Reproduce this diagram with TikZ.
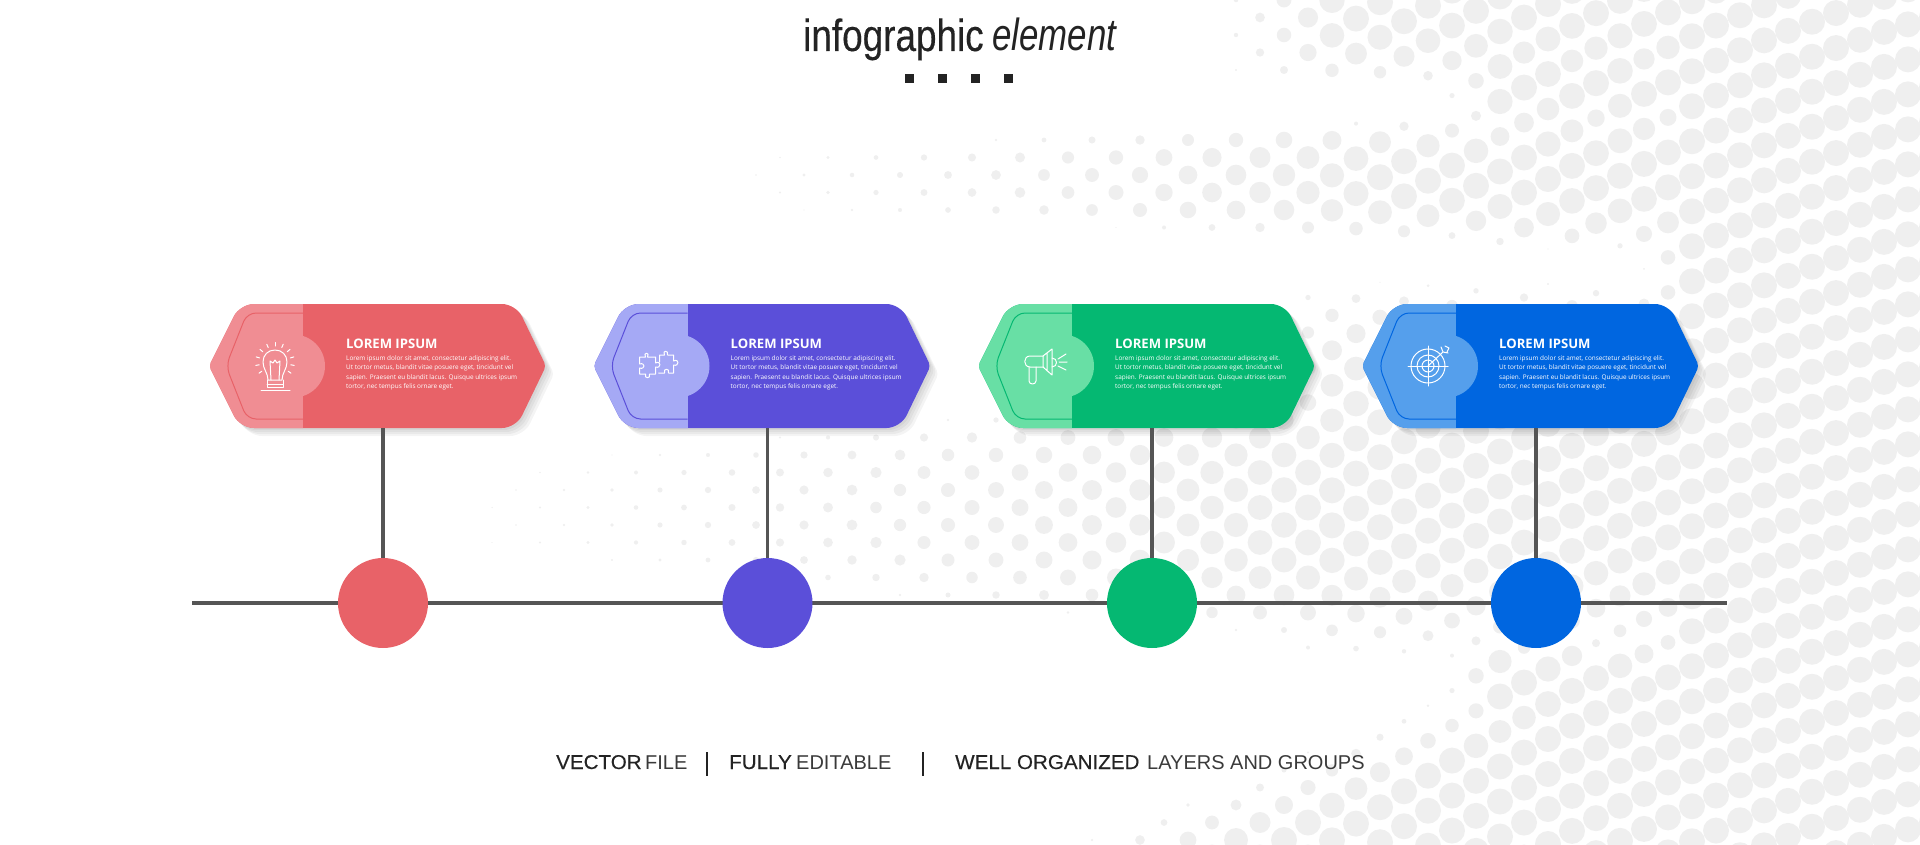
\documentclass[tikz,border=0pt]{standalone}
\usepackage{fontspec}
\usepackage{tikz}
\setmainfont{Open Sans}
\newfontfamily\headfont[FakeStretch=0.82,FakeBold=0.3]{Liberation Sans}
\newfontfamily\heademfont[FakeStretch=0.775]{Liberation Sans Italic}
\newfontfamily\footfont{Liberation Sans}
\newfontfamily\footboldfont[FakeBold=0.35,FakeStretch=1.03]{Liberation Sans}
\definecolor{reddark}{HTML}{E86268}
\definecolor{redlight}{HTML}{F08D93}
\definecolor{violetdark}{HTML}{5B4FD9}
\definecolor{violetlight}{HTML}{A5A9F5}
\definecolor{greendark}{HTML}{05B872}
\definecolor{greenlight}{HTML}{68DFA5}
\definecolor{bluedark}{HTML}{0066E0}
\definecolor{bluelight}{HTML}{559FEC}
\definecolor{inkdark}{HTML}{232323}
\definecolor{inklight}{HTML}{3A3A3A}
\definecolor{stemgray}{HTML}{555555}
\definecolor{halftone}{HTML}{EFEFEF}
\def\cardpath{[rounded corners=4] (-1,0) [rounded corners=14] -- (30,-62) -- (306,-62) [rounded corners=4] -- (336,0) [rounded corners=14] -- (306,62) -- (30,62) [rounded corners=4] -- cycle}
\def\bulbicon{
    \draw (-7,14) .. controls (-7,7) and (-12,3) .. (-12,-4) .. controls (-12,-11) and (-7,-16) .. (0,-16) .. controls (7,-16) and (12,-11) .. (12,-4) .. controls (12,3) and (7,7) .. (7,14) -- cycle;
    \draw (-4,14) -- (-5,-5) -- (-2,-3) -- (0,-6) -- (2,-3) -- (5,-5) -- (4,14);
    \draw (-8,18) -- (8,18) (-8,14) -- (-8,21) -- (8,21) -- (8,14) (-14,24) -- (15,24);
    \foreach \a in {-90,-65,-115,-40,-140,-15,-165,10,170,35,145}
        \draw[shift={(0,-4)}] (\a:16) -- (\a:19.5);
}
\def\puzzleicon{
    \draw (-20,-9) -- (-14,-9) .. controls (-17,-14) and (-9,-14) .. (-12,-9) -- (-4,-9) -- (-4,-3) .. controls (2,-6) and (2,3) .. (-4,1) -- (-4,8) -- (-10,8) .. controls (-8,13) and (-16,13) .. (-14,8) -- (-20,8) -- (-20,2) .. controls (-14,4) and (-14,-4) .. (-20,-2) -- cycle;
    \draw (0,-4) -- (0,-11) -- (5,-11) .. controls (2,-16) and (10,-16) .. (8,-11) -- (14,-11) -- (14,-5) .. controls (20,-8) and (20,1) .. (14,-1) -- (14,7) -- (9,7) .. controls (11,2) and (3,2) .. (5,7) -- (-1,7);
}
\def\hornicon{
    \draw (-1,-10) -- (-14,-10) .. controls (-21,-10) and (-21,1) .. (-14,1) -- (-1,1);
    \draw (-1,-10) -- (8,-17) -- (8,9) -- (-1,1) -- cycle (3,-13) -- (3,5);
    \draw (8,-8) .. controls (14,-8) and (14,1) .. (8,1);
    \draw (-15,1) -- (-15,15) .. controls (-15,19) and (-8,19) .. (-8,15) -- (-8,1);
    \draw (14,-7) -- (22,-12) (15,-4) -- (23,-4) (14,0) -- (22,4);
}
\def\targeticon{
    \draw (0,0) circle (17pt) (0,0) circle (11pt) (0,0) circle (6pt);
    \draw (-20,0) -- (20,0) (0,-20) -- (0,20);
    \draw (0,0) -- (15,-14) (13,-19) -- (15,-14) -- (20,-13) (17,-20) -- (21,-18) -- (19,-14);
}
\tikzset{
    halfdot/.style={fill=halftone},
    timeline/.style={stemgray,line width=4},
    stemline/.style={stemgray,line width=3.5},
    iconline/.style={white,line width=1,line join=round,line cap=round},
    cardtitle/.style={anchor=base west,inner sep=0,white,font=\bfseries\fontsize{13.1}{15}\selectfont},
    cardbody/.style={anchor=north west,inner sep=0,white,align=left,font=\fontsize{6.4}{9.6}\selectfont},
    stepdot/.style={circle,inner sep=0,minimum size=90},
    footword/.style={anchor=base west,inner sep=0,text=inkdark},
    footlight/.style={footword,text=inklight}
}
\begin{document}
\begin{tikzpicture}[x=1pt,y=-1pt,
    declare function={
        ramp(\p,\s,\w)=max(0,min(1,(\p-\s)/\w));
        band(\p,\q,\s,\w,\c,\ha,\hb)=ramp(\p,\s,\w)*(1-min(2,abs((\q-\c)/(\ha+\hb*ramp(\p,\s,\w))))^4);
    }]
    \useasboundingbox (0,0) rectangle (1920,845);
    \begin{scope}
        \clip (0,0) rectangle (1920,845);
        \foreach \i in {0,...,31}
            \foreach \j in {0,...,62} {
                \pgfmathsetmacro\dotx{420+48*\i+24*mod(\j,2)}
                \pgfmathsetmacro\doty{-175+17.5*\j+3.5*(max(\dotx-1300,0)/100)^2}
                \pgfmathsetmacro\dotr{13*min(1,max(max(band(\dotx,\doty,1215,120,0,85,0),ramp(\dotx,0,1200)*band(\dotx,\doty,680,700,180,30,30),band(\dotx,\doty,1440,80,175,75,0),ramp(\dotx,-300,1400)*band(\dotx,\doty,400,900,510,40,90)),max(band(\dotx,\doty,1250,90,470,190,0),band(\dotx,\doty,1440,60,690,50,0),band(\dotx,\doty,1440,60,85,40,0),ramp(\dotx,1640,50),ramp(\doty+0.4*\dotx,1270,70))))}
                \ifdim\dotr pt>0.6pt
                    \fill[halfdot] (\dotx,\doty) circle (\dotr pt);
                \fi
            }
    \end{scope}
    \node[anchor=base west,inner sep=0,text=inkdark,font=\headfont\fontsize{45}{50}\selectfont] (headmain) at (803,51) {infographic};
    \node[anchor=base west,inner sep=0,text=inkdark,font=\heademfont\fontsize{45}{50}\selectfont] (headem) at (992,51) {element};
    \foreach \x in {909,942,975,1008}
        \fill[inkdark] (\x-4.5,74.5) rectangle (\x+4.5,83.5);
    \coordinate (linestart) at (192,603);
    \coordinate (lineend) at (1727,603);
    \draw[timeline] (linestart) -- (lineend);
    \foreach \n/\left/\dark/\light/\icon in {1/210/reddark/redlight/\bulbicon,2/594.5/violetdark/violetlight/\puzzleicon,3/979/greendark/greenlight/\hornicon,4/1363/bluedark/bluelight/\targeticon} {
        \begin{scope}[shift={(\left,366)}]
            \foreach \s in {2,4,6,8}
                \fill[black,opacity=.045,shift={(\s,\s)}] \cardpath;
            \fill[\dark] \cardpath;
            \begin{scope}
                \clip \cardpath;
                \fill[\light] (-5,-70) rectangle (93,70);
                \fill[\light] (83.5,0) circle (31.5pt);
            \end{scope}
            \draw[\dark,line width=1,rounded corners=9] (93,-53) -- (37,-53) -- (16,0) -- (37,53) -- (93,53);
            \begin{scope}[shift={(65,0)},iconline]
                \icon
            \end{scope}
            \node[cardtitle] (title\n) at (136,-18) {LOREM IPSUM};
            \node[cardbody] (text\n) at (136,-11) {Lorem ipsum dolor sit amet, consectetur adipiscing elit.\\Ut tortor metus, blandit vitae posuere eget, tincidunt vel\\sapien. Praesent eu blandit lacus. Quisque ultrices ipsum\\tortor, nec tempus felis ornare eget.};
            \coordinate (card\n) at (173,62);
            \node[stepdot,fill=\dark] (dot\n) at (173,237) {};
            \draw[stemline] (card\n) -- (dot\n);
        \end{scope}
    }
    \node[footword,font=\footboldfont\fontsize{20}{24}\selectfont] (vectorword) at (556,769) {VECTOR};
    \node[footlight,font=\footfont\fontsize{20}{24}\selectfont] (fileword) at (645,769) {FILE};
    \node[footword,font=\footboldfont\fontsize{20}{24}\selectfont] (fullyword) at (729,769) {FULLY};
    \node[footlight,font=\footfont\fontsize{20}{24}\selectfont] (editableword) at (796,769) {EDITABLE};
    \node[footword,font=\footboldfont\fontsize{20}{24}\selectfont] (wellword) at (955,769) {WELL ORGANIZED};
    \node[footlight,font=\footfont\fontsize{20}{24}\selectfont] (layersword) at (1147,769) {LAYERS AND GROUPS};
    \draw[inkdark,line width=1.2] (707,752) -- (707,776) (923,752) -- (923,776);
\end{tikzpicture}
\end{document}
